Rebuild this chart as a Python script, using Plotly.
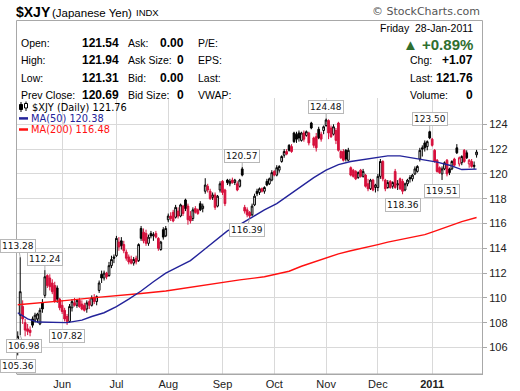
import plotly.graph_objects as go
import pandas as pd

# ---------------- data ----------------
holidays = ["2010-05-31", "2010-07-05", "2010-09-06", "2010-11-25", "2010-12-24", "2011-01-17"]
dates = [d.strftime("%Y-%m-%d") for d in pd.bdate_range("2010-05-05", "2011-01-28")
         if d.strftime("%Y-%m-%d") not in holidays]

opens = [
    106.6, 108.6, 109.3, 108.0, 107.5, 107.4, 108.3, 108.2, 108.3, 107.9, 109.6, 110.2, 111.8, 111.6, 111.2, 111.0, 110.8, 109.9,
    109.4, 109.0, 108.5, 108.1, 109.2, 109.6, 109.4, 109.8, 109.5, 109.4, 109.1, 109.7, 109.4, 110.0, 109.7, 110.6, 111.9, 111.6, 112.0, 111.8, 112.6, 113.3,
    113.4, 114.5, 114.6, 114.3, 113.7, 113.3, 113.1, 112.8, 113.2, 113.0, 115.6, 115.3, 115.2, 114.4, 115.2, 115.0, 115.2, 114.8, 113.9, 115.5, 115.0,
    116.3, 116.6, 116.9, 116.5, 117.0, 116.6, 117.4, 117.9, 117.4, 116.6, 116.4, 117.2, 117.1, 117.6, 117.2, 118.6, 119.0, 118.6, 118.1, 118.3, 117.4, 118.7,
    119.4, 118.7, 119.5, 119.2, 119.5, 119.3, 119.2, 119.0, 120.4, 117.3, 117.1, 116.9, 116.7, 117.5, 118.6, 118.5, 118.8, 118.6, 119.4, 119.2, 119.5,
    120.2, 119.9, 120.3, 121.0, 121.5, 121.8, 122.3, 122.2, 123.3, 123.2, 123.3, 122.7, 123.3, 123.1, 123.3, 124.1, 122.9, 123.0, 123.6, 123.2, 123.5,
    123.9, 124.3, 123.7, 123.2, 123.5, 124.1, 121.8, 121.8, 121.9, 121.1, 120.5, 120.3, 120.2, 119.7, 120.3, 119.8, 119.9, 119.2, 118.8, 119.5, 118.9,
    118.9, 119.8, 121.0, 119.5, 118.9, 119.4, 119.0, 120.2, 119.1, 119.6, 119.4, 118.7, 119.2, 119.7, 119.6, 120.0, 120.2, 121.2, 122.1, 122.5, 122.2, 123.4,
    122.8, 121.9, 121.1, 120.5, 120.0, 120.4, 121.1, 120.4, 120.4, 121.2, 122.1, 120.8, 120.9, 121.9, 121.7, 120.8, 121.0, 120.6, 121.54,
]
highs = [
    107.3, 113.28, 109.8, 108.3, 107.9, 107.7, 108.5, 108.8, 108.8, 109.2, 109.9, 112.24, 111.9, 111.9, 111.5, 111.3, 111.0, 110.0,
    109.8, 109.2, 108.7, 109.5, 109.9, 110.0, 109.9, 110.0, 109.8, 109.6, 109.8, 109.9, 110.2, 110.3, 110.2, 111.4, 112.2, 112.2, 112.1, 112.9, 113.4, 113.5,
    115.0, 114.9, 114.9, 114.6, 113.9, 113.5, 113.4, 113.3, 113.4, 114.4, 115.8, 115.6, 115.5, 115.1, 115.4, 115.3, 115.4, 114.9, 114.6, 115.7, 115.8,
    116.8, 116.9, 117.1, 117.5, 117.3, 117.6, 117.5, 118.0, 117.6, 117.0, 117.3, 117.4, 117.2, 117.8, 117.6, 119.65, 119.2, 118.8, 118.5, 118.5, 118.3, 119.4,
    119.5, 118.8, 119.6, 119.6, 119.7, 119.6, 119.4, 119.6, 120.57, 117.5, 117.3, 117.0, 117.6, 118.4, 118.8, 118.9, 118.9, 119.0, 119.6, 119.7, 120.3,
    120.3, 120.7, 120.7, 121.5, 122.0, 122.0, 122.4, 122.4, 123.4, 123.4, 123.5, 123.4, 123.5, 123.5, 123.4, 124.2, 123.0, 123.3, 123.8, 123.4, 123.9,
    124.48, 124.4, 123.9, 124.0, 123.7, 124.2, 121.9, 122.0, 122.0, 122.1, 120.6, 120.4, 120.3, 120.2, 120.4, 120.4, 120.0, 119.6, 119.6, 119.6, 119.2,
    120.0, 121.2, 121.1, 119.6, 119.5, 119.5, 119.4, 120.4, 119.5, 119.7, 119.6, 119.3, 119.6, 119.9, 120.0, 120.6, 120.7, 122.1, 122.3, 122.7, 122.7, 123.50,
    122.9, 122.0, 121.2, 120.6, 120.6, 121.0, 121.2, 120.5, 121.1, 121.3, 122.4, 121.4, 121.5, 122.0, 121.9, 121.2, 121.2, 121.0, 121.94,
]
lows = [
    105.36, 106.98, 107.9, 106.9, 107.0, 106.9, 107.6, 108.0, 108.0, 107.8, 108.8, 110.0, 110.8, 110.6, 110.3, 109.6, 109.6, 109.0,
    108.7, 108.1, 107.82, 108.0, 108.9, 109.3, 109.2, 109.2, 109.0, 108.9, 108.8, 109.1, 109.3, 109.5, 109.4, 110.4, 111.2, 111.4, 111.5, 111.7, 112.4, 112.8,
    113.3, 113.8, 113.9, 113.6, 113.0, 112.7, 112.7, 112.6, 112.7, 112.9, 114.6, 114.4, 114.2, 114.2, 114.8, 114.6, 114.8, 113.8, 113.8, 114.7, 114.9,
    116.1, 116.2, 116.1, 116.4, 116.4, 116.5, 116.6, 117.0, 115.9, 116.0, 116.2, 116.8, 116.7, 117.0, 116.9, 118.4, 118.5, 117.9, 117.9, 117.1, 117.3, 118.5,
    118.3, 117.4, 119.1, 119.0, 119.2, 119.1, 118.6, 118.9, 119.8, 116.8, 116.5, 116.39, 116.6, 117.4, 118.2, 118.3, 118.5, 118.4, 119.0, 119.1, 119.4,
    119.8, 119.8, 120.1, 120.9, 121.3, 121.5, 121.8, 121.7, 122.5, 122.5, 122.6, 122.6, 122.6, 123.0, 122.3, 123.6, 122.1, 121.8, 122.8, 122.6, 123.2,
    123.8, 122.8, 122.9, 123.1, 122.4, 121.8, 121.2, 121.0, 121.0, 121.0, 119.8, 119.7, 119.5, 119.6, 119.7, 119.7, 118.9, 118.6, 118.7, 118.6, 118.5,
    118.6, 119.6, 119.4, 118.6, 118.8, 118.8, 118.8, 118.8, 118.7, 118.7, 118.36, 118.6, 119.0, 119.3, 119.4, 119.9, 120.1, 121.0, 121.4, 121.8, 121.9, 122.8,
    122.2, 120.9, 120.1, 120.0, 119.51, 120.3, 119.8, 119.9, 120.3, 120.6, 121.6, 120.6, 120.7, 120.9, 121.2, 120.5, 120.5, 120.4, 121.31,
]
closes = [
    106.9, 110.5, 108.3, 107.4, 107.3, 107.2, 107.8, 108.6, 108.7, 109.0, 109.1, 111.7, 111.0, 110.9, 110.5, 109.7, 109.9, 109.2,
    108.9, 108.3, 108.1, 109.3, 109.7, 109.4, 109.8, 109.3, 109.1, 109.0, 109.6, 109.4, 110.0, 109.7, 110.1, 111.2, 111.6, 112.0, 111.7, 112.6, 113.1, 113.2,
    114.8, 114.1, 114.2, 113.8, 113.2, 112.9, 112.8, 113.1, 112.9, 114.3, 114.8, 114.6, 114.4, 114.9, 115.0, 115.1, 114.9, 114.0, 114.5, 114.9, 115.6,
    116.6, 116.4, 116.2, 117.3, 116.6, 117.5, 116.8, 117.2, 116.3, 116.2, 117.1, 116.9, 116.8, 117.1, 117.4, 119.1, 118.7, 118.0, 118.3, 117.3, 118.2, 119.2,
    118.5, 117.6, 119.3, 119.4, 119.3, 119.5, 118.7, 119.5, 119.9, 117.0, 116.7, 116.6, 117.4, 118.2, 118.4, 118.8, 118.6, 118.9, 119.1, 119.6, 120.1,
    119.9, 120.5, 120.6, 121.4, 121.8, 121.6, 121.9, 121.8, 122.6, 122.8, 122.9, 123.3, 122.8, 123.4, 122.5, 123.7, 122.3, 122.1, 122.9, 122.8, 123.8,
    124.35, 123.3, 123.0, 123.8, 122.7, 121.9, 121.3, 121.1, 121.2, 121.9, 119.9, 119.8, 119.6, 120.1, 119.8, 120.2, 119.0, 118.8, 119.5, 118.7, 119.1,
    119.8, 121.0, 119.6, 118.8, 119.3, 118.9, 119.3, 118.9, 119.2, 118.8, 118.6, 119.2, 119.5, 119.6, 119.9, 120.4, 120.6, 121.9, 122.0, 122.1, 122.6, 122.9,
    122.3, 121.0, 120.2, 120.1, 120.4, 120.9, 120.0, 120.1, 121.0, 120.7, 121.7, 121.3, 121.4, 121.0, 121.3, 121.1, 120.6, 120.69, 121.76,
]

ma50_idx = [0, 4, 8, 14, 20, 26, 30, 35, 40, 45, 50, 55, 60, 65, 70, 75, 80, 85, 90, 95, 100, 105, 110, 115,
            120, 125, 130, 135, 140, 145, 150, 155, 160, 165, 170, 175, 180, 186]
ma50_vals = [108.8, 108.3, 108.05, 108.0, 108.0, 108.2, 108.5, 108.8, 109.3, 109.9, 110.55, 111.3, 112.0, 112.5,
             113.0, 113.8, 114.6, 115.4, 115.9, 116.5, 117.1, 117.6, 118.3, 119.0, 119.7, 120.3, 120.75, 121.0,
             121.15, 121.3, 121.45, 121.45, 121.3, 121.15, 120.95, 120.7, 120.35, 120.38]
ma200_idx = [0, 10, 20, 30, 40, 50, 60, 70, 80, 90, 100, 105, 110, 115, 120, 125, 130, 135, 140, 146, 150,
             155, 160, 165, 168, 172, 176, 180, 186]
ma200_vals = [109.45, 109.6, 109.8, 110.0, 110.15, 110.35, 110.55, 110.85, 111.2, 111.45, 111.7, 111.9, 112.15,
              112.55, 112.9, 113.2, 113.55, 113.8, 114.0, 114.3, 114.5, 114.7, 114.9, 115.1, 115.3, 115.6, 115.9,
              116.15, 116.48]

month_labels = ["Jun", "Jul", "Aug", "Sep", "Oct", "Nov", "Dec", "<b>2011</b>"]
y_ticks = [106, 108, 110, 112, 114, 116, 118, 120, 122, 124]

# labelled highs (+1) and lows (-1): bar index, value
hl_idx = [1, 11, 1, 0, 20, 91, 94, 125, 156, 167, 172]
hl_vals = [113.28, 112.24, 106.98, 105.36, 107.82, 120.57, 116.39, 124.48, 118.36, 123.50, 119.51]
hl_side = [1, 1, -1, -1, -1, 1, -1, 1, -1, 1, -1]
hl_shift = [-2, 0, 4, 0, 0, 0, -3, 0, 0, 0, 0]

quote_labels_1 = ["Open:", "High:", "Low:", "Prev Close:"]
quote_values_1 = ["121.54", "121.94", "121.31", "120.69"]
quote_labels_2 = ["Ask:", "Ask Size:", "Bid:", "Bid Size:"]
quote_values_2 = ["0.00", "0", "0.00", "0"]
quote_labels_3 = ["P/E:", "EPS:", "Last:", "VWAP:"]
quote_labels_4 = ["Chg:", "Last:", "Volume:"]
quote_values_4 = ["+1.07", "121.76", "0"]

# ---------------- layout helpers ----------------
W, H = 520, 391
ML, MR, MT, MB = 17, 38, 98, 17
PW, PH = W - ML - MR, H - MT - MB


def fx(px):
    return (px - ML) / PW


def fy(py):
    return (H - MB - py) / PH


FONT = "Liberation Sans, Arial, sans-serif"
VFONT = "DejaVu Sans, Verdana, sans-serif"
RED = "#d6103c"
BLUE = "#23239a"
GRID = "#d9d9d9"

n = len(dates)
pos = list(range(n))  # trading-day positions on the axis
black_i = [i for i in range(n) if i == 0 or closes[i] >= closes[i - 1]]
red_i = [i for i in range(n) if not (i == 0 or closes[i] >= closes[i - 1])]


def sub(arr, idx):
    return [arr[i] for i in idx]


fig = go.Figure()
for idx, col in [(black_i, "#000000"), (red_i, RED)]:
    fig.add_trace(go.Candlestick(
        x=sub(pos, idx), open=sub(opens, idx), high=sub(highs, idx),
        low=sub(lows, idx), close=sub(closes, idx), text=sub(dates, idx),
        increasing=dict(line=dict(color=col, width=1), fillcolor="white"),
        decreasing=dict(line=dict(color=col, width=1), fillcolor=col),
        whiskerwidth=0, showlegend=False, hoverinfo="skip"))

fig.add_trace(go.Scatter(x=sub(pos, ma200_idx), y=ma200_vals, mode="lines",
                         line=dict(color="#ff1010", width=1.4), showlegend=False, hoverinfo="skip"))
fig.add_trace(go.Scatter(x=sub(pos, ma50_idx), y=ma50_vals, mode="lines",
                         line=dict(color=BLUE, width=1.4), showlegend=False, hoverinfo="skip"))

tick_pos = [i for i in range(1, n) if dates[i][5:7] != dates[i - 1][5:7]]

annotations = []
for i, v, s, sh in zip(hl_idx, hl_vals, hl_side, hl_shift):
    annotations.append(dict(
        x=pos[i], y=v, xref="x", yref="y", text=f"{v:.2f}", showarrow=True,
        arrowhead=0, arrowwidth=1, arrowcolor="#b0b0b0", ax=sh, ay=-11 if s > 0 else 11,
        bordercolor="#b8b8b8", borderwidth=1, borderpad=1, bgcolor="white",
        font=dict(family=VFONT, size=9, color="#111")))


def txt(px, py, text, anchor="left", size=10, color="#000", family=FONT):
    annotations.append(dict(x=fx(px), y=fy(py), xref="paper", yref="paper", text=text,
                            showarrow=False, xanchor=anchor, yanchor="middle",
                            font=dict(family=family, size=size, color=color)))


# header
txt(14, 12, "<b>$XJY</b>", size=14)
txt(50, 12.5, "(Japanese Yen)", size=11.5)
txt(134, 12.5, "INDX", size=9.5)
txt(482, 12, "© StockCharts.com", anchor="right", size=11, color="#555", family=VFONT)

rows = [43, 60.5, 78, 95]
for r, l1, v1, l2, v2, l3 in zip(rows, quote_labels_1, quote_values_1, quote_labels_2, quote_values_2, quote_labels_3):
    txt(19, r, l1, size=10.5)
    txt(121, r, f"<b>{v1}</b>", anchor="right", size=12)
    txt(126, r, l2, size=10.5)
    txt(186, r, f"<b>{v2}</b>", anchor="right", size=12)
    txt(196, r, l3, size=10.5)

txt(475, 27.5, "Friday  28-Jan-2011", anchor="right", size=10.5)
txt(475, 44, "<b>▲ +0.89%</b>", anchor="right", size=15, color="#2f6f2f")
for r, l4, v4 in zip(rows[1:], quote_labels_4, quote_values_4):
    txt(408, r, l4, size=10.5)
    txt(475, r, f"<b>{v4}</b>", anchor="right", size=12)

# in-chart legend
txt(30, 107.3, "$XJY (Daily) 121.76", size=9.8, family=VFONT)
txt(29, 118.4, "MA(50) 120.38", size=9.8, color=BLUE, family=VFONT)
txt(29, 129.5, "MA(200) 116.48", size=9.8, color="#ff1010", family=VFONT)

shapes = [
    dict(type="rect", xref="paper", yref="paper", x0=fx(16.5), x1=fx(482.5), y0=fy(374), y1=fy(20.5),
         line=dict(color="#a8a8a8", width=1), fillcolor="rgba(0,0,0,0)", layer="above"),
    dict(type="line", xref="paper", yref="paper", x0=fx(21), x1=fx(21), y0=fy(102), y1=fy(112),
         line=dict(color="#000", width=1)),
    dict(type="rect", xref="paper", yref="paper", x0=fx(19.5), x1=fx(22.5), y0=fy(104.5), y1=fy(109.5),
         line=dict(color="#000", width=1), fillcolor="#000"),
    dict(type="line", xref="paper", yref="paper", x0=fx(26), x1=fx(26), y0=fy(101.5), y1=fy(111),
         line=dict(color="#000", width=1)),
    dict(type="rect", xref="paper", yref="paper", x0=fx(24.5), x1=fx(27.5), y0=fy(103.5), y1=fy(108),
         line=dict(color="#000", width=1), fillcolor="white"),
    dict(type="line", xref="paper", yref="paper", x0=fx(19), x1=fx(28), y0=fy(118.4), y1=fy(118.4),
         line=dict(color=BLUE, width=2.5)),
    dict(type="line", xref="paper", yref="paper", x0=fx(19), x1=fx(28), y0=fy(129.5), y1=fy(129.5),
         line=dict(color="#ff1010", width=2.5)),
]

fig.update_layout(
    template="none",
    width=W, height=H, margin=dict(l=ML, r=MR, t=MT, b=MB, pad=0, autoexpand=False),
    paper_bgcolor="white", plot_bgcolor="white", showlegend=False,
    boxgap=0.0, annotations=annotations, shapes=shapes,
    font=dict(family=FONT, color="#000"),
    xaxis=dict(type="linear", range=[-0.3, 188.2], tickvals=tick_pos, ticktext=month_labels,
               showgrid=True, gridcolor=GRID, gridwidth=1, showline=True, linecolor="#a8a8a8",
               ticks="", tickfont=dict(family=FONT, size=11, color="#222"), automargin=False,
               rangeslider=dict(visible=False), zeroline=False, fixedrange=True),
    yaxis=dict(side="right", range=[103.86, 126.12], tickvals=y_ticks,
               showgrid=True, gridcolor=GRID, gridwidth=1, showline=True, linecolor="#a8a8a8",
               ticks="outside", ticklen=4, tickcolor="#a8a8a8", automargin=False,
               tickfont=dict(family=FONT, size=11, color="#222"), zeroline=False, fixedrange=True),
)

fig.write_html("out.html", config={"displayModeBar": False},
               post_script="document.body.style.margin='0';document.body.style.padding='0';"
                           "document.documentElement.style.overflow='hidden';")
